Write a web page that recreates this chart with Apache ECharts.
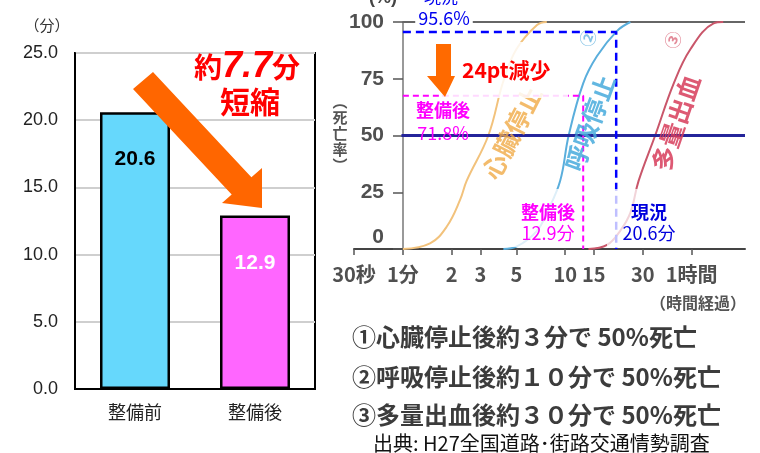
<!DOCTYPE html>
<html>
<head>
<meta charset="utf-8">
<script src="https://cdn.jsdelivr.net/npm/echarts@6/dist/echarts.min.js"></script>
<style>
  html, body { margin: 0; padding: 0; background: #fff; }
  #chart { width: 760px; height: 453px; }
</style>
</head>
<body>
<div id="chart"></div>
<script>
// left: bar chart
const categories = ['整備前', '整備後']
const barValues = [20.6, 12.9]
const barColors = ['#66d8fc', '#ff66ff']

// right: death-rate curves (minutes, %)
const xTickValues = [0.5, 1, 2, 3, 5, 10, 15, 30, 60]
const xTickLabels = ['30秒', '1分', '2', '3', '5', '10', '15', '30', '1時間']
const cardiacT = [1, 1.47, 1.86, 2.25, 2.47, 3.36, 4.16, 5.0, 6.7, 7.7]
const cardiacP = [0, 2.5, 9.8, 21.6, 30, 50, 74, 88, 98.7, 100]
const breathT = [4.16, 5.0, 6.7, 7.7, 9.3, 10.5, 12.9, 15.7, 20.8, 25.2]
const breathP = [0, 1, 8, 16, 30, 50, 73, 85, 96, 100]
const bleedT = [13.9, 18.1, 21.8, 25.2, 28.3, 35.8, 46.6, 59, 82, 94]
const bleedP = [0, 1.8, 8, 16, 30, 50, 73, 88, 99.4, 100]

const nowTime = 20.6
const nowRate = 95.6
const afterTime = 12.9
const afterRate = 67.5 // where the dashed line is drawn in the picture
const xMin = 0.5
const xMax = 128

const jp = '"Noto Sans CJK JP", sans-serif'
const pair = (t, p) => t.map((v, i) => [v, p[i]])

const chart = echarts.init(document.getElementById('chart'))

const lineSeries = (name, data, color) => ({
  name: name,
  type: 'line',
  xAxisIndex: 1,
  yAxisIndex: 1,
  smooth: 0.4,
  symbol: 'none',
  data: data,
  lineStyle: { color: color, width: 2 },
  z: 3
})

chart.setOption({
  animation: false,
  grid: [
    { left: 75, right: 445, top: 53, bottom: 64, show: true, borderColor: '#000', borderWidth: 2, backgroundColor: 'transparent' },
    { left: 354, right: 15, top: 22, bottom: 204 }
  ],
  xAxis: [
    {
      gridIndex: 0,
      type: 'category',
      data: categories,
      axisLine: { lineStyle: { color: '#000', width: 2 } },
      axisTick: { show: false },
      axisLabel: { color: '#222', fontSize: 18, margin: 14, fontFamily: jp }
    },
    {
      gridIndex: 1,
      type: 'log',
      logBase: 10,
      min: xMin,
      max: xMax,
      axisLine: { lineStyle: { color: '#444', width: 2 } },
      axisTick: { show: true, customValues: xTickValues, length: 6, lineStyle: { color: '#555', width: 1.5 } },
      minorTick: { show: false },
      splitLine: { show: false },
      axisLabel: {
        customValues: xTickValues,
        color: '#505050',
        fontSize: 20,
        fontWeight: 'bold',
        fontFamily: jp,
        margin: 15,
        formatter: function (v) {
          let best = 0
          for (let i = 0; i < xTickValues.length; i++) {
            if (Math.abs(Math.log(xTickValues[i] / v)) < Math.abs(Math.log(xTickValues[best] / v))) best = i
          }
          return xTickLabels[best]
        }
      }
    }
  ],
  yAxis: [
    {
      gridIndex: 0,
      type: 'value',
      min: 0,
      max: 25,
      interval: 5,
      axisLine: { show: true, lineStyle: { color: '#000', width: 2 } },
      axisTick: { show: false },
      splitLine: { lineStyle: { color: '#cfcfcf', width: 2 } },
      axisLabel: { color: '#222', fontSize: 18, margin: 17, fontFamily: 'Arial, "Liberation Sans"', formatter: v => v.toFixed(1) }
    },
    {
      gridIndex: 1,
      type: 'value',
      min: 0,
      max: 100,
      interval: 25,
      offset: -49,
      axisLine: { show: true, lineStyle: { color: '#777', width: 1.5 } },
      axisTick: { show: true, length: 10, lineStyle: { color: '#555', width: 1.5 } },
      splitLine: { show: false },
      axisLabel: {
        color: '#505050',
        fontSize: 21,
        fontWeight: 'bold',
        margin: 19,
        fontFamily: 'Arial, "Liberation Sans"',
        formatter: v => (v === 0 ? '{z|0}' : String(v)),
        rich: { z: { fontSize: 21, fontWeight: 'bold', color: '#505050', padding: [0, 0, 24, 0] } }
      }
    }
  ],
  series: [
    {
      type: 'bar',
      xAxisIndex: 0,
      yAxisIndex: 0,
      barWidth: 70,
      data: barValues.map((v, i) => ({
        value: v,
        itemStyle: { color: barColors[i] },
        label: { color: i === 0 ? '#000' : '#fff' }
      })),
      itemStyle: { borderColor: '#000', borderWidth: 2.5 },
      label: {
        show: true,
        position: 'insideTop',
        distance: 37,
        fontSize: 21,
        fontWeight: 'bold',
        fontFamily: 'Arial, "Liberation Sans"'
      }
    },
    lineSeries('心臓停止', pair(cardiacT, cardiacP), '#f2c27c'),
    lineSeries('呼吸停止', pair(breathT, breathP), '#5aaedc'),
    lineSeries('多量出血', pair(bleedT, bleedP), '#c9566a'),
    {
      type: 'line',
      xAxisIndex: 1,
      yAxisIndex: 1,
      symbol: 'none',
      data: [[1, 100], [xMax, 100]],
      lineStyle: { color: '#666', width: 2 },
      z: 2
    },
    {
      type: 'line',
      xAxisIndex: 1,
      yAxisIndex: 1,
      symbol: 'none',
      data: [[0.98, 50], [xMax, 50]],
      lineStyle: { color: '#24249a', width: 3 },
      z: 4
    },
    {
      type: 'line',
      xAxisIndex: 1,
      yAxisIndex: 1,
      symbol: 'none',
      data: [[1, nowRate], [nowTime, nowRate], [nowTime, 0]],
      lineStyle: { color: '#0000ff', width: 2.5, type: [8, 5] },
      z: 5
    },
    {
      type: 'line',
      xAxisIndex: 1,
      yAxisIndex: 1,
      symbol: 'none',
      data: [[1, afterRate], [afterTime, afterRate], [afterTime, 0]],
      lineStyle: { color: '#ff00ff', width: 2, type: [6, 4] },
      z: 5
    }
  ],
  graphic: [
    // left annotation arrow
    {
      type: 'polygon', z: 50,
      shape: { points: [[133, 89], [231.7, 194.5], [222, 203], [262, 208], [262, 168], [251.4, 177.3], [153, 72]] },
      style: { fill: '#ff6600' }
    },
    {
      type: 'text', z: 51, x: 247, y: 67,
      style: {
        text: '{a|約}{b|7.7}{a|分}', align: 'center', verticalAlign: 'middle',
        rich: {
          a: { fill: '#ff0000', fontSize: 28, fontWeight: 'bold', fontFamily: jp },
          b: { fill: '#ff0000', fontSize: 36, fontWeight: 'bold', fontStyle: 'italic', fontFamily: 'Arial, "Liberation Sans"' }
        }
      }
    },
    {
      type: 'text', z: 51, x: 250, y: 102,
      style: { text: '短縮', fill: '#ff0000', font: 'bold 30px ' + jp, align: 'center', verticalAlign: 'middle' }
    },
    { type: 'text', z: 51, x: 47, y: 25, style: { text: '（分）', fill: '#333', font: '15px ' + jp, align: 'center', verticalAlign: 'middle' } },

    // right chart curve labels
    { type: 'text', z: 6, x: 512, y: 133, rotation: 1.1, style: { text: '心臓停止', fill: 'rgba(240,170,70,0.8)', font: 'bold 25px ' + jp, align: 'center', verticalAlign: 'middle' } },
    { type: 'text', z: 6, x: 590, y: 123, rotation: 1.22, style: { text: '呼吸停止', fill: 'rgba(70,170,220,0.85)', font: 'bold 25px ' + jp, align: 'center', verticalAlign: 'middle' } },
    { type: 'text', z: 6, x: 676, y: 123, rotation: 1.24, style: { text: '多量出血', fill: 'rgba(215,60,90,0.85)', font: 'bold 25px ' + jp, align: 'center', verticalAlign: 'middle' } },
    { type: 'text', z: 6, x: 588, y: 38, rotation: 1.2, style: { text: '②', fill: 'rgba(80,170,220,0.7)', font: 'bold 17px ' + jp, align: 'center', verticalAlign: 'middle' } },
    { type: 'text', z: 6, x: 673, y: 40, rotation: 1.2, style: { text: '③', fill: 'rgba(215,90,110,0.7)', font: 'bold 17px ' + jp, align: 'center', verticalAlign: 'middle' } },

    // pasted white boxes
    { type: 'rect', z: 10, shape: { x: 443, y: 42, width: 125, height: 56 }, style: { fill: 'rgba(255,255,255,0.85)' } },
    { type: 'rect', z: 10, shape: { x: 503, y: 189, width: 75, height: 58 }, style: { fill: 'rgba(255,255,255,0.8)' } },
    { type: 'rect', z: 10, shape: { x: 607, y: 189, width: 85, height: 58 }, style: { fill: 'rgba(255,255,255,0.75)' } },

    // small orange arrow
    {
      type: 'polygon', z: 20,
      shape: { points: [[436, 44], [451, 44], [451, 76], [455, 76], [445, 97], [427, 76], [436, 76]] },
      style: { fill: '#ff6a00' }
    },
    { type: 'text', z: 20, x: 462, y: 70, style: { text: '24pt減少', fill: '#ff0000', font: 'bold 21px ' + jp, verticalAlign: 'middle' } },

    // right chart texts
    { type: 'text', z: 20, x: 383, y: -2, style: { text: '(%)', fill: '#444', font: 'bold 18px Arial', align: 'center', verticalAlign: 'middle' } },
    { type: 'text', z: 20, x: 441, y: -3, style: { text: '現況', fill: '#0000ee', font: '17px ' + jp, align: 'center', verticalAlign: 'middle' } },
    { type: 'text', z: 20, x: 444, y: 18, style: { text: '95.6%', fill: '#0000ee', font: '18px ' + jp, align: 'center', verticalAlign: 'middle', backgroundColor: '#fff', padding: [0, 3] } },
    { type: 'text', z: 20, x: 443, y: 110, style: { text: '整備後', fill: '#ff00ff', font: 'bold 18px ' + jp, align: 'center', verticalAlign: 'middle' } },
    { type: 'text', z: 20, x: 443, y: 133, style: { text: '71.8%', fill: '#ff00ff', font: '18px ' + jp, align: 'center', verticalAlign: 'middle' } },
    { type: 'text', z: 20, x: 548, y: 212, style: { text: '整備後', fill: '#ff00ff', font: 'bold 18px ' + jp, align: 'center', verticalAlign: 'middle' } },
    { type: 'text', z: 20, x: 548, y: 233, style: { text: '12.9分', fill: '#ff00ff', font: '18px ' + jp, align: 'center', verticalAlign: 'middle' } },
    { type: 'text', z: 20, x: 649, y: 212, style: { text: '現況', fill: '#0000dd', font: 'bold 18px ' + jp, align: 'center', verticalAlign: 'middle' } },
    { type: 'text', z: 20, x: 649, y: 233, style: { text: '20.6分', fill: '#0000dd', font: '18px ' + jp, align: 'center', verticalAlign: 'middle' } },
    { type: 'text', z: 20, x: 340, y: 133, style: { text: '︵\n死\n亡\n率\n︶', fill: '#555', font: 'bold 15px ' + jp, lineHeight: 16, align: 'center', verticalAlign: 'middle' } },
    { type: 'text', z: 20, x: 746, y: 303, style: { text: '（時間経過）', fill: '#555', font: 'bold 16px ' + jp, align: 'right', verticalAlign: 'middle' } },

    // notes
    { type: 'text', z: 20, x: 352, y: 337, style: { text: '①心臓停止後約３分で 50%死亡', fill: '#3c3c3c', font: 'bold 24px ' + jp, verticalAlign: 'middle' } },
    { type: 'text', z: 20, x: 352, y: 377, style: { text: '②呼吸停止後約１０分で 50%死亡', fill: '#3c3c3c', font: 'bold 24px ' + jp, verticalAlign: 'middle' } },
    { type: 'text', z: 20, x: 352, y: 415, style: { text: '③多量出血後約３０分で 50%死亡', fill: '#3c3c3c', font: 'bold 24px ' + jp, verticalAlign: 'middle' } },
    { type: 'text', z: 20, x: 373, y: 443, style: { text: '出典: H27全国道路･街路交通情勢調査', fill: '#111', font: '20px ' + jp, verticalAlign: 'middle' } }
  ]
})
</script>
</body>
</html>
